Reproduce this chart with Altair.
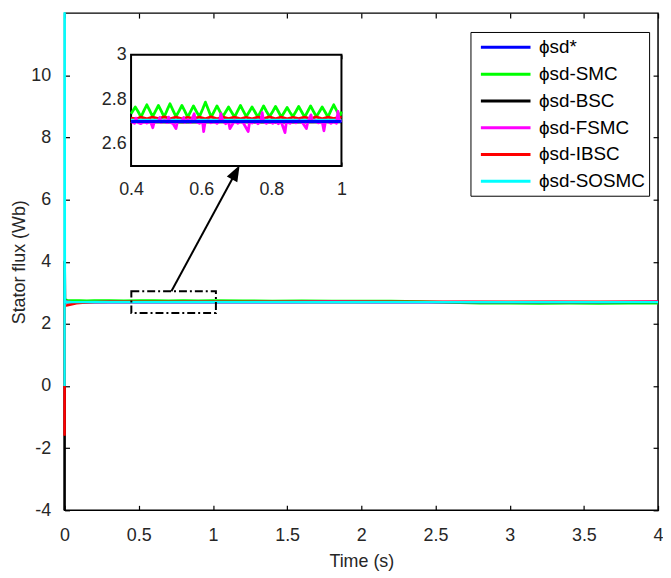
import altair as alt
import pandas as pd

FONT = "Liberation Sans"
TXT = "#262626"
FS = 18
LFS = 19

SERIES = ["ϕsd*", "ϕsd-SMC", "ϕsd-BSC", "ϕsd-FSMC", "ϕsd-IBSC", "ϕsd-SOSMC"]
COLORS = ["#0000ff", "#00ff00", "#000000", "#ff00ff", "#ff0000", "#00ffff"]

# ---------------- main plot data (time in s, flux in Wb) ----------------
BLUE_T = [0, 4.0]
BLUE_V = [2.7, 2.7]

GREEN_T = [0, 0.003, 0.02, 0.05, 0.1, 0.15, 0.2, 0.3, 0.4, 0.5, 0.6, 0.7, 0.8, 0.9, 1.0,
           1.2, 1.4, 1.6, 1.8, 2.0, 2.2, 2.4, 2.6, 2.8, 3.0, 3.2, 3.4, 3.6, 3.8, 4.0]
GREEN_V = [2.8, 2.78, 2.76, 2.75, 2.755, 2.745, 2.75, 2.75, 2.745, 2.75, 2.75, 2.745, 2.75, 2.745, 2.75,
           2.745, 2.74, 2.745, 2.74, 2.74, 2.735, 2.72, 2.69, 2.665, 2.66, 2.655, 2.66, 2.655, 2.66, 2.66]

BLACK_T = [0, 0.0008, 0.003, 0.01, 4.0]
BLACK_V = [-4.0, 4.0, 2.72, 2.7, 2.7]

MAGENTA_T = [0, 0.005, 0.05, 0.3, 0.6, 0.9, 1.2, 1.5, 1.8, 2.1, 2.4, 2.7, 3.0, 3.3, 3.6, 4.0]
MAGENTA_V = [2.7, 2.72, 2.7, 2.705, 2.7, 2.705, 2.7, 2.705, 2.72, 2.705, 2.7, 2.705, 2.7, 2.705, 2.7, 2.72]

RED_T = [0, 0.001, 0.02, 0.05, 0.08, 0.12, 0.2, 0.3, 4.0]
RED_V = [-1.6, 2.58, 2.6, 2.63, 2.66, 2.68, 2.7, 2.71, 2.71]

CYAN_T = [0, 0.0004, 0.002, 0.01, 4.0]
CYAN_V = [0, 12.0, 2.75, 2.7, 2.7]

# ---------------- zoomed inset data (0.4 s .. 1 s) ----------------
BLUE_IN_T = [0.4, 1.0]
BLUE_IN_V = [2.7, 2.7]

GREEN_IN_T = [0.400, 0.404, 0.412, 0.420, 0.4285, 0.437, 0.445, 0.453, 0.4615, 0.470, 0.478, 0.486,
              0.4945, 0.503, 0.511, 0.519, 0.528, 0.537, 0.545, 0.553, 0.5615, 0.570, 0.578, 0.586,
              0.595, 0.604, 0.612, 0.620, 0.6285, 0.637, 0.645, 0.653, 0.6615, 0.670, 0.678, 0.686,
              0.695, 0.704, 0.712, 0.720, 0.7285, 0.737, 0.745, 0.753, 0.7615, 0.770, 0.778, 0.786,
              0.795, 0.804, 0.812, 0.820, 0.8285, 0.837, 0.845, 0.853, 0.8615, 0.870, 0.878, 0.886,
              0.895, 0.904, 0.912, 0.920, 0.9285, 0.937, 0.945, 0.953, 0.9615, 0.970, 0.978, 0.986,
              0.995, 1.000]
GREEN_IN_V = [2.735, 2.745, 2.765, 2.745, 2.720, 2.750, 2.775, 2.750, 2.722, 2.748, 2.772, 2.748,
              2.720, 2.752, 2.780, 2.752, 2.722, 2.748, 2.772, 2.748, 2.720, 2.746, 2.770, 2.746,
              2.722, 2.755, 2.787, 2.755, 2.720, 2.746, 2.770, 2.746, 2.722, 2.744, 2.765, 2.744,
              2.720, 2.748, 2.772, 2.748, 2.722, 2.744, 2.765, 2.744, 2.720, 2.746, 2.770, 2.746,
              2.722, 2.745, 2.768, 2.745, 2.720, 2.742, 2.763, 2.742, 2.722, 2.745, 2.768, 2.745,
              2.720, 2.746, 2.770, 2.746, 2.722, 2.744, 2.765, 2.744, 2.720, 2.750, 2.775, 2.750,
              2.722, 2.745]

BLACK_IN_T = [0.4, 0.55, 0.7, 0.85, 1.0]
BLACK_IN_V = [2.698, 2.697, 2.698, 2.697, 2.698]

MAGENTA_IN_T = [0.400, 0.410, 0.414, 0.420, 0.428, 0.437, 0.445, 0.455, 0.462, 0.466, 0.478, 0.482,
                0.486, 0.495, 0.503, 0.507, 0.511, 0.520, 0.528, 0.532, 0.545, 0.550, 0.553, 0.562,
                0.570, 0.580, 0.584, 0.595, 0.604, 0.607, 0.611, 0.620, 0.628, 0.637, 0.645, 0.652,
                0.656, 0.662, 0.670, 0.678, 0.682, 0.695, 0.704, 0.712, 0.720, 0.734, 0.738, 0.745,
                0.753, 0.762, 0.770, 0.774, 0.778, 0.786, 0.795, 0.804, 0.812, 0.820, 0.828, 0.839,
                0.843, 0.853, 0.862, 0.870, 0.880, 0.890, 0.900, 0.904, 0.913, 0.917, 0.925, 0.934,
                0.945, 0.950, 0.954, 0.962, 0.970, 0.978, 0.986, 0.990, 0.994, 1.000]
MAGENTA_IN_V = [2.700, 2.692, 2.715, 2.696, 2.690, 2.700, 2.693, 2.702, 2.672, 2.698, 2.700, 2.718,
                2.696, 2.705, 2.695, 2.720, 2.698, 2.690, 2.668, 2.698, 2.702, 2.718, 2.696, 2.708,
                2.695, 2.735, 2.700, 2.692, 2.700, 2.655, 2.696, 2.703, 2.694, 2.700, 2.692, 2.700,
                2.735, 2.700, 2.690, 2.700, 2.668, 2.703, 2.692, 2.700, 2.694, 2.655, 2.698, 2.693,
                2.702, 2.690, 2.700, 2.740, 2.700, 2.692, 2.700, 2.692, 2.700, 2.690, 2.700, 2.650,
                2.698, 2.692, 2.702, 2.694, 2.705, 2.692, 2.668, 2.698, 2.730, 2.698, 2.703, 2.694,
                2.700, 2.658, 2.697, 2.700, 2.692, 2.700, 2.692, 2.745, 2.700, 2.705]

RED_IN_T = [0.400, 0.417, 0.428, 0.445, 0.461, 0.478, 0.495, 0.511, 0.528, 0.545, 0.562, 0.578,
            0.595, 0.612, 0.628, 0.645, 0.662, 0.678, 0.695, 0.712, 0.728, 0.745, 0.762, 0.778,
            0.795, 0.812, 0.828, 0.845, 0.862, 0.878, 0.895, 0.912, 0.928, 0.945, 0.962, 0.978,
            0.995, 1.000]
RED_IN_V = [2.715, 2.712, 2.720, 2.712, 2.720, 2.713, 2.721, 2.712, 2.720, 2.712, 2.719, 2.713,
            2.720, 2.712, 2.721, 2.712, 2.720, 2.713, 2.720, 2.712, 2.719, 2.712, 2.720, 2.713,
            2.721, 2.712, 2.720, 2.712, 2.719, 2.713, 2.720, 2.712, 2.721, 2.712, 2.720, 2.713,
            2.720, 2.716]

CYAN_IN_T = [0.4, 1.0]
CYAN_IN_V = [2.706, 2.706]

# inset frame (data range of the zoom window) and zoom marker on main plot
INSET_T = [0.4, 1.0]
INSET_V = [2.5, 3.0]
ZOOMBOX_T = [0.45, 1.02]
ZOOMBOX_V = [2.35, 3.05]
ARROW_T = [0.72, 1.148]
ARROW_V = [3.05, 6.82]
ARROW_ANGLE = 28.5

MAIN_X_TICKS = [0, 0.5, 1, 1.5, 2, 2.5, 3, 3.5, 4]
MAIN_Y_TICKS = [-4, -2, 0, 2, 4, 6, 8, 10]
IN_X_TICKS = [0.4, 0.6, 0.8, 1.0]
IN_Y_TICKS = [2.6, 2.8, 3.0]

W, H = 598, 501
IN_X_RANGE = [67, 279]
IN_Y_RANGE = [154, 42]
TK = 5


def make_df(pairs):
    rows = []
    for name, (ts, vs) in zip(SERIES, pairs):
        for t, v in zip(ts, vs):
            rows.append({"series": name, "t": t, "v": v})
    return pd.DataFrame(rows)


main_df = make_df([(BLUE_T, BLUE_V), (GREEN_T, GREEN_V), (BLACK_T, BLACK_V),
                   (MAGENTA_T, MAGENTA_V), (RED_T, RED_V), (CYAN_T, CYAN_V)])
inset_df = make_df([(BLUE_IN_T, BLUE_IN_V), (GREEN_IN_T, GREEN_IN_V), (BLACK_IN_T, BLACK_IN_V),
                    (MAGENTA_IN_T, MAGENTA_IN_V), (RED_IN_T, RED_IN_V), (CYAN_IN_T, CYAN_IN_V)])

legend = alt.Legend(
    title=None, orient="none", legendX=409, legendY=19,
    symbolType="M-2.5,0H2.5", symbolSize=400, symbolStrokeWidth=3,
    labelFontSize=LFS, labelFont=FONT, labelColor="black",
    strokeColor="black", fillColor="white", padding=4, rowPadding=5,
    symbolOffset=20, labelOffset=22,
)
color = alt.Color("series:N", scale=alt.Scale(domain=SERIES, range=COLORS), legend=legend)

lbl = "'' + datum.value"
xs_main = alt.Scale(domain=[0, 4], nice=False, zero=False)
ys_main = alt.Scale(domain=[-4, 12], nice=False, zero=False)

ax_bottom = alt.Axis(orient="bottom", values=MAIN_X_TICKS, labelExpr=lbl, offset=-TK, tickSize=TK,
                     domain=False, grid=False, labelPadding=16, labelFlush=False,
                     title="Time (s)", titlePadding=9)
ax_left = alt.Axis(orient="left", values=MAIN_Y_TICKS, labelExpr=lbl, offset=-TK, tickSize=TK,
                   domain=False, grid=False, labelPadding=14, labelFlush=False,
                   title="Stator flux (Wb)", titlePadding=2)
ax_top = alt.Axis(orient="top", values=MAIN_X_TICKS, labels=False, offset=-TK, tickSize=TK,
                  domain=False, grid=False, title=None)
ax_right = alt.Axis(orient="right", values=MAIN_Y_TICKS, labels=False, offset=-TK, tickSize=TK,
                    domain=False, grid=False, title=None)

main_layers = []
for k, name in enumerate(SERIES):
    main_layers.append(
        alt.Chart(main_df).transform_filter(alt.datum.series == name)
        .mark_line(strokeWidth=2.5, strokeJoin="round")
        .encode(
            x=alt.X("t:Q", scale=xs_main, axis=ax_bottom if k == 0 else None),
            y=alt.Y("v:Q", scale=ys_main, axis=ax_left if k == 0 else None),
            color=color,
        )
    )

zoombox_df = pd.DataFrame({"x0": [ZOOMBOX_T[0]], "x1": [ZOOMBOX_T[1]],
                           "y0": [ZOOMBOX_V[0]], "y1": [ZOOMBOX_V[1]]})
zoombox = alt.Chart(zoombox_df).mark_rect(filled=False, stroke="black", strokeWidth=2,
                                          strokeDash=[8, 3, 2, 3]).encode(
    x=alt.X("x0:Q", scale=xs_main, axis=ax_top), x2="x1:Q",
    y=alt.Y("y0:Q", scale=ys_main, axis=ax_right), y2="y1:Q",
)
arrow_df = pd.DataFrame({"x0": [ARROW_T[0]], "x1": [ARROW_T[1]],
                         "y0": [ARROW_V[0]], "y1": [ARROW_V[1]]})
arrow = alt.Chart(arrow_df).mark_rule(color="black", strokeWidth=2).encode(
    x=alt.X("x0:Q", scale=xs_main, axis=None), x2="x1:Q",
    y=alt.Y("y0:Q", scale=ys_main, axis=None), y2="y1:Q",
)
head = alt.Chart(arrow_df).mark_point(
    shape="M0,-1L-0.6,0.6L0.6,0.6Z", filled=True, color="black", size=400,
    angle=ARROW_ANGLE, opacity=1, strokeWidth=0,
).encode(
    x=alt.X("x1:Q", scale=xs_main, axis=None),
    y=alt.Y("y1:Q", scale=ys_main, axis=None),
)

main_layer = alt.layer(*main_layers, zoombox, arrow, head).resolve_axis(x="independent", y="independent")

# ---------------- inset ----------------
xs_in = alt.Scale(domain=[0.4, 1.0], range=IN_X_RANGE, nice=False, zero=False)
ys_in = alt.Scale(domain=[2.5, 3.0], range=IN_Y_RANGE, nice=False, zero=False)
ITK = 4
in_bottom = alt.Axis(orient="bottom", values=IN_X_TICKS, labelExpr=lbl,
                     offset=IN_Y_RANGE[0] - H - ITK, tickSize=ITK, domain=False, grid=False,
                     labelPadding=15, labelFlush=False, title=None)
in_left = alt.Axis(orient="left", values=IN_Y_TICKS, labelExpr=lbl,
                   offset=-(IN_X_RANGE[0] + ITK), tickSize=ITK, domain=False, grid=False,
                   labelPadding=5, labelFlush=False, title=None)
in_top = alt.Axis(orient="top", values=IN_X_TICKS, labels=False,
                  offset=-(IN_Y_RANGE[1] + ITK), tickSize=ITK, domain=False, grid=False, title=None)
in_right = alt.Axis(orient="right", values=IN_Y_TICKS, labels=False,
                    offset=IN_X_RANGE[1] - ITK - W, tickSize=ITK, domain=False, grid=False, title=None)

inset_frame_df = pd.DataFrame({"x0": [INSET_T[0]], "x1": [INSET_T[1]],
                               "y0": [INSET_V[0]], "y1": [INSET_V[1]]})
inset_frame = alt.Chart(inset_frame_df).mark_rect(fill="white", stroke="black", strokeWidth=2).encode(
    x=alt.X("x0:Q", scale=xs_in, axis=in_bottom), x2="x1:Q",
    y=alt.Y("y0:Q", scale=ys_in, axis=in_left), y2="y1:Q",
)
inset_ticks = alt.Chart(inset_frame_df).mark_rect(opacity=0).encode(
    x=alt.X("x0:Q", scale=xs_in, axis=in_top), x2="x1:Q",
    y=alt.Y("y0:Q", scale=ys_in, axis=in_right), y2="y1:Q",
)

inset_order = [1, 4, 2, 5, 3, 0]
inset_layers = []
for i in inset_order:
    name = SERIES[i]
    inset_layers.append(
        alt.Chart(inset_df).transform_filter(alt.datum.series == name)
        .mark_line(strokeWidth=2.8, strokeJoin="round")
        .encode(
            x=alt.X("t:Q", scale=xs_in, axis=None),
            y=alt.Y("v:Q", scale=ys_in, axis=None),
            color=color,
        )
    )

inset_layer = alt.layer(inset_frame, *inset_layers, inset_ticks).resolve_axis(x="independent", y="independent")

chart = (
    alt.layer(main_layer, inset_layer)
    .resolve_scale(x="independent", y="independent")
    .properties(
        width=W, height=H,
        padding={"left": 57, "top": 3, "right": 5, "bottom": 62},
        autosize=alt.AutoSizeParams(type="none"),
    )
    .configure_view(stroke="black", strokeWidth=1.5)
    .configure_axis(labelFont=FONT, titleFont=FONT, labelFontSize=FS, titleFontSize=FS,
                    labelColor=TXT, titleColor=TXT, titleFontWeight="normal",
                    tickColor="black", tickWidth=1.2)
)

chart.save("out.html", embed_options={"renderer": "svg", "actions": False})
